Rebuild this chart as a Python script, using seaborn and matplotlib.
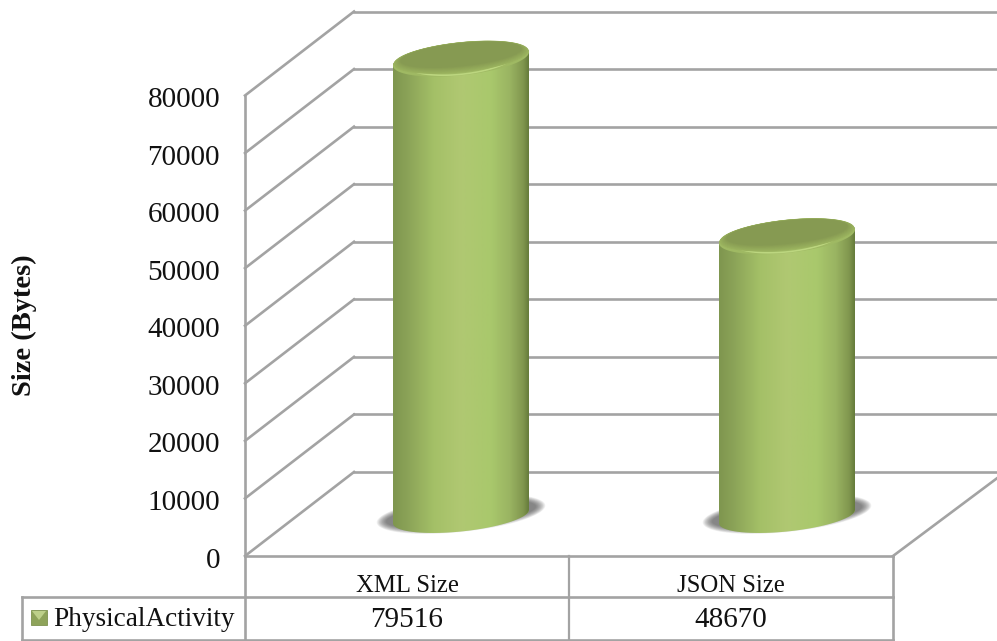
import numpy as np
import matplotlib
matplotlib.use("Agg")
import matplotlib.pyplot as plt
import seaborn as sns
from matplotlib.colors import LinearSegmentedColormap, to_rgb
from matplotlib.lines import Line2D
from matplotlib.patches import Polygon, Rectangle
from matplotlib.transforms import Affine2D, IdentityTransform, blended_transform_factory

categories = ["XML Size", "JSON Size"]
sizes = [79516, 48670]
series_name = "PhysicalActivity"
y_ticks = [0, 10000, 20000, 30000, 40000, 50000, 60000, 70000, 80000]

W, H = 997, 641
GREY = "#a3a3a3"
INK = "#111111"
SERIF = "Liberation Serif"
PX = IdentityTransform()

sns.set_theme(style="white")
plt.rcParams["font.family"] = [SERIF, "DejaVu Sans"]

fig = plt.figure(figsize=(W / 100, H / 100), dpi=100, facecolor="white")


def axes_box(left, right, top, bottom):
    return [left / W, 1 - bottom / H, (right - left) / W, (bottom - top) / H]


def rule(x0, y0, x1, y1, lw=1.9):
    """Rule given in pixels from the top-left corner, kept behind the axes."""
    fig.add_artist(Line2D([x0, x1], [H - y0, H - y1], color=GREY, lw=lw,
                          transform=PX, solid_capstyle="projecting", zorder=-1))


# Front plane of the 3D frame: carries the value axis and the category row
ax = fig.add_axes(axes_box(245, 893, 95.5, 556))
ax.set_xlim(-0.5, 1.5)
ax.set_ylim(0, 80000)
ax.patch.set_alpha(0)
ax.set_yticks(y_ticks)
ax.set_yticklabels([str(v) for v in y_ticks], fontsize=21, color=INK)
ax.tick_params(axis="y", length=0, pad=18)
for label in ax.get_yticklabels():
    label.set_transform(label.get_transform() + Affine2D().translate(0, -1.5))
ax.set_xticks(range(len(categories)))
ax.set_xticklabels(categories, fontsize=17.8, color=INK)
ax.tick_params(axis="x", length=0, pad=13.5)
ax.set_ylabel("Size (Bytes)", fontsize=20.5, fontweight="bold", color=INK)
ax.yaxis.set_label_coords((37 - 245) / 648, (556 - 325) / 460.5)
for spine in ax.spines.values():
    spine.set_visible(False)

# Walls: each gridline climbs from the value axis, then runs across the back
DX, DY = 109, 84
for v in y_ticks:
    _, py = ax.transData.transform((0, v))
    y_px = H - py
    rule(245, y_px, 245 + DX, y_px - DY)
    rule(245 + DX, y_px - DY, W + 3, y_px - DY)

# Frame edges and data table rules
rule(245, 95.5, 245, 640)
rule(245, 556, 893, 556)
rule(893, 556, 1000, 476)
rule(22, 596.5, 893, 596.5)
rule(22, 640, 893, 640)
rule(22, 596.5, 22, 640)
rule(569, 556, 569, 640, lw=1.6)
rule(893, 556, 893, 640)

# Data table contents
row_trans = blended_transform_factory(ax.transData, fig.transFigure)
for i, v in enumerate(sizes):
    ax.text(i, 1 - 620 / H, str(v), fontsize=21, color=INK, ha="center",
            va="center", transform=row_trans, clip_on=False)
fig.text(53 / W, 1 - 619 / H, series_name, fontsize=19.6, color=INK,
         ha="left", va="center")

# Legend swatch in the table's first cell
fig.add_artist(Rectangle((31, H - 625), 16, 15, transform=PX, fc="#8ea35a", ec="#7e924f", lw=0.6))
fig.add_artist(Polygon([(32, H - 611), (46, H - 611), (39, H - 620)], closed=True,
                       transform=PX, fc="#bdd08a", ec="none"))

# Cylinders sit halfway into the depth of the frame
BASE_Y = 516.5
bar_ax = fig.add_axes(axes_box(298, 950, BASE_Y - 460.5, BASE_Y))
bar_ax.patch.set_alpha(0)
sns.barplot(x=categories, y=sizes, ax=bar_ax, color="#a5c168", width=136 / 326,
            saturation=1, linewidth=0)
bar_ax.set_xlim(-0.5, 1.5)
bar_ax.set_ylim(0, 80000)
bar_ax.axis("off")

body_cmap = LinearSegmentedColormap.from_list(
    "cyl",
    [(0.0, "#7f964f"), (0.1, "#8aa257"), (0.3, "#a4c067"), (0.5, "#b0c872"),
     (0.72, "#a9c86c"), (0.86, "#9ab462"), (0.96, "#80964e"), (1.0, "#667c3b")],
)
TILT = 0.1
CAP_B = 16.5
BASE_B = 15


def ring(cx, cy, a, b, t0=0.0, t1=2 * np.pi, n=120):
    """Sheared ellipse in display pixels: its ends stay level with the walls' slope."""
    t = np.linspace(t0, t1, n)
    return np.column_stack([cx + a * np.cos(t), cy + a * TILT * np.cos(t) + b * np.sin(t)])


def mix(c0, c1, f):
    return tuple(np.array(to_rgb(c0)) * (1 - f) + np.array(to_rgb(c1)) * f)


for bar, value in zip(list(bar_ax.patches), sizes):
    x0 = bar.get_x()
    x1 = x0 + bar.get_width()
    mid = x0 + bar.get_width() / 2
    cx, base_y = bar_ax.transData.transform((mid, 0))
    _, top_y = bar_ax.transData.transform((mid, value))
    left_px, _ = bar_ax.transData.transform((x0, 0))
    right_px, _ = bar_ax.transData.transform((x1, 0))
    a = (right_px - left_px) / 2

    # Soft shadow on the floor
    for k in range(14):
        f = k / 13
        pts = ring(cx, base_y + 2.5, a * (1.24 - 0.14 * f), BASE_B + 3 - 6 * f)
        bar_ax.add_patch(Polygon(pts, closed=True, transform=PX, fc="#4a4a4a", ec="none",
                                 alpha=0.07, zorder=0.5, clip_on=False))

    # Body: top edge follows the front of the cap, lower edge the front of the base
    lower = ring(cx, base_y, a, BASE_B, np.pi, 2 * np.pi)
    upper = ring(cx, top_y, a, CAP_B, 0, np.pi)
    outline = np.vstack([lower, upper])
    clip = Polygon(outline, closed=True, transform=PX)
    bar.set_clip_box(fig.bbox)
    bar.set_clip_path(clip)
    bar.set_zorder(1)
    grad = np.linspace(0, 1, 256).reshape(1, -1)
    im = bar_ax.imshow(grad, cmap=body_cmap, aspect="auto", zorder=2,
                       extent=(x0, x1, -5000, value + 5000), interpolation="bilinear")
    im.set_clip_box(fig.bbox)
    im.set_clip_path(clip)

    # Cap: pale rim around a darker, slightly raised disc
    bar_ax.add_patch(Polygon(ring(cx, top_y, a, CAP_B), closed=True, transform=PX,
                             fc="#9fb963", ec="none", zorder=3, clip_on=False))
    front = ring(cx, top_y, a * 0.82, CAP_B * 0.99, np.pi * 1.15, np.pi * 1.85)
    bar_ax.add_patch(Polygon(np.vstack([front, front[::-1] + [0, 1.6]]), closed=True,
                             transform=PX, fc="#bcd67f", ec="none", zorder=3.1, clip_on=False))
    for k in range(8):
        f = k / 7
        pts = ring(cx, top_y + 1.5 + 2.5 * f, a * (0.99 - 0.1 * f), CAP_B * (0.92 - 0.22 * f))
        bar_ax.add_patch(Polygon(pts, closed=True, transform=PX,
                                 fc=mix("#9ab25e", "#869a52", f), ec="none",
                                 zorder=3.2 + k * 0.01, clip_on=False))

bar_ax.set_xlim(-0.5, 1.5)
bar_ax.set_ylim(0, 80000)

fig.savefig("out.png", dpi=100, facecolor="white")
